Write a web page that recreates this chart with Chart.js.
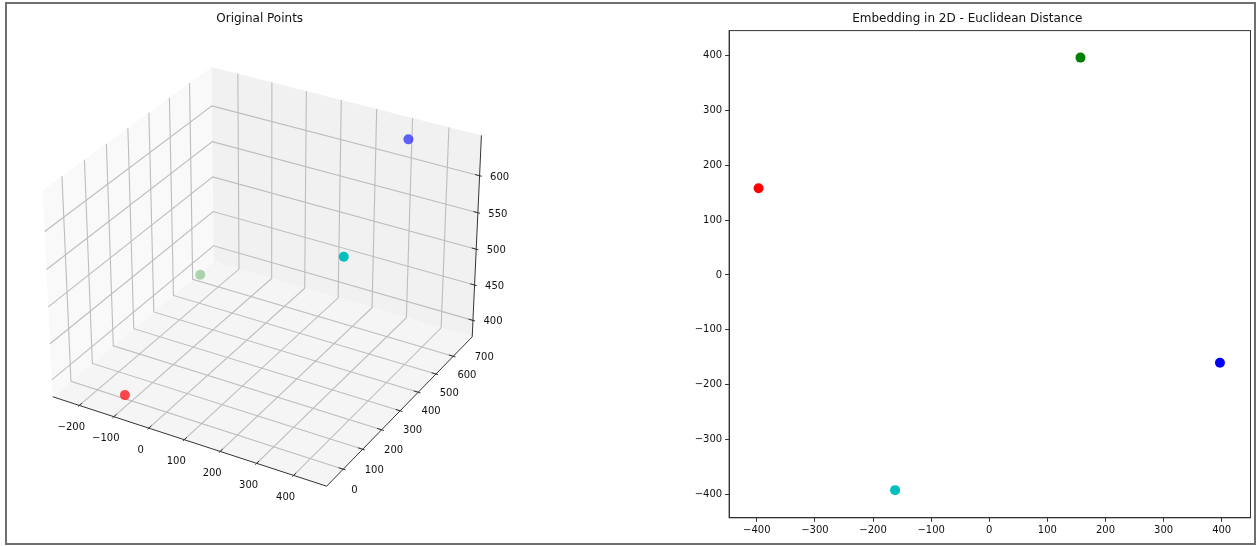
<!DOCTYPE html>
<html>
<head>
<meta charset="utf-8">
<script src="https://cdn.jsdelivr.net/npm/chart.js@4/dist/chart.umd.min.js"></script>
<style>
  html, body { margin: 0; padding: 0; background: #ffffff; }
  #page { position: absolute; left: 0; top: 0; width: 1259px; height: 546px; overflow: hidden; background: #fff; }
  #frame { position: absolute; left: 5px; top: 2px; width: 1251px; height: 543px; box-sizing: border-box; border: 2px solid #6f6f6f; pointer-events: none; }
  #c3d { position: absolute; left: 0; top: 0; }
  #c2d { position: absolute; left: 660px; top: 0; }
</style>
</head>
<body>
<div id="page">
  <canvas id="c3d" width="630" height="546"></canvas>
  <canvas id="c2d" width="599" height="546"></canvas>
  <div id="frame"></div>
</div>
<script>
// ---------------- data ----------------
const pointColors = ['#ff0000', '#008000', '#00bfbf', '#0000ff'];   // r, g, c, b

// original 3-D points
const origX = [-76, -263, 473, 298];
const origY = [32, 714, 114, 796];
const origZ = [406, 382, 648, 628];

// 2-D embedding
const embedX = [-397, 157, -162, 397];
const embedY = [158, 396, -392, -160];

// tick labels
const xTicks3D = [-200, -100, 0, 100, 200, 300, 400];
const yTicks3D = [0, 100, 200, 300, 400, 500, 600, 700];
const zTicks3D = [400, 450, 500, 550, 600];
const ticks2D = [-400, -300, -200, -100, 0, 100, 200, 300, 400];

// ---------------- helpers ----------------
Chart.defaults.font.family = "'DejaVu Sans', sans-serif";
Chart.defaults.color = '#000';

const fmt = v => String(v).replace('-', '\u2212');
function hexToRgba(hex, a) {
  const r = parseInt(hex.slice(1, 3), 16), g = parseInt(hex.slice(3, 5), 16), b = parseInt(hex.slice(5, 7), 16);
  return `rgba(${r},${g},${b},${a})`;
}

// matplotlib-like 3D view (elev 30, azim -60, perspective, box aspect 4:4:3)
const lim = {
  x: [Math.min(...origX), Math.max(...origX)],
  y: [Math.min(...origY), Math.max(...origY)],
  z: [Math.min(...origZ), Math.max(...origZ)]
};
const ELEV = 30, AZIM = -60, DIST = 10;
const boxAsp = (() => { const a = [4, 4, 3]; const n = Math.hypot(...a); return a.map(v => v * 1.8294640721620434 / n); })();
const er = ELEV * Math.PI / 180, ar = AZIM * Math.PI / 180;
const nV = [Math.cos(er) * Math.cos(ar), Math.cos(er) * Math.sin(ar), Math.sin(er)];
const uV = (() => { const c = [-nV[1], nV[0], 0]; const l = Math.hypot(...c); return c.map(v => v / l); })();
const vV = [nV[1] * uV[2] - nV[2] * uV[1], nV[2] * uV[0] - nV[0] * uV[2], nV[0] * uV[1] - nV[1] * uV[0]];
const dot = (a, b) => a[0] * b[0] + a[1] * b[1] + a[2] * b[2];

function project(x, y, z) {
  const q = [
    ((x - lim.x[0]) / (lim.x[1] - lim.x[0]) - 0.5) * boxAsp[0],
    ((y - lim.y[0]) / (lim.y[1] - lim.y[0]) - 0.5) * boxAsp[1],
    ((z - lim.z[0]) / (lim.z[1] - lim.z[0]) - 0.5) * boxAsp[2]
  ];
  const w = DIST - dot(nV, q);
  return { x: dot(uV, q) / w, y: dot(vV, q) / w, w: w };
}

// pane extents
const dX = lim.x[1] - lim.x[0], dY = lim.y[1] - lim.y[0], dZ = lim.z[1] - lim.z[0];
const PX = [lim.x[0] - dX / 48, lim.x[1] + dX / 48];
const PY = [lim.y[0] - dY / 48, lim.y[1] + dY / 48];
const PZ = [lim.z[0] - dZ / 48, lim.z[1] + dZ / 48];

// projected points + depth shading
const proj3D = origX.map((x, i) => project(x, origY[i], origZ[i]));
const wMin = Math.min(...proj3D.map(p => p.w)), wMax = Math.max(...proj3D.map(p => p.w));
const shaded = proj3D.map((p, i) => hexToRgba(pointColors[i], 1 - 0.7 * (p.w - wMin) / (wMax - wMin)));

const axes3DPlugin = {
  id: 'axes3d',
  beforeDatasetsDraw(chart) {
    const ctx = chart.ctx, sx = chart.scales.x, sy = chart.scales.y;
    const P = (x, y, z) => { const t = project(x, y, z); return [sx.getPixelForValue(t.x), sy.getPixelForValue(t.y)]; };
    const poly = (pts, fill) => {
      ctx.beginPath();
      pts.forEach((p, i) => { const s = P(...p); i ? ctx.lineTo(s[0], s[1]) : ctx.moveTo(s[0], s[1]); });
      ctx.closePath(); ctx.fillStyle = fill; ctx.fill();
    };
    const line = (pts) => {
      ctx.beginPath();
      pts.forEach((p, i) => { const s = P(...p); i ? ctx.lineTo(s[0], s[1]) : ctx.moveTo(s[0], s[1]); });
      ctx.stroke();
    };
    ctx.save();
    // panes
    poly([[PX[0], PY[0], PZ[0]], [PX[0], PY[1], PZ[0]], [PX[0], PY[1], PZ[1]], [PX[0], PY[0], PZ[1]]], '#f9f9f9');
    poly([[PX[0], PY[1], PZ[0]], [PX[1], PY[1], PZ[0]], [PX[1], PY[1], PZ[1]], [PX[0], PY[1], PZ[1]]], '#f1f1f1');
    poly([[PX[0], PY[0], PZ[0]], [PX[1], PY[0], PZ[0]], [PX[1], PY[1], PZ[0]], [PX[0], PY[1], PZ[0]]], '#f5f5f5');
    // grid
    ctx.strokeStyle = '#bdbdbd'; ctx.lineWidth = 1.1;
    const inX = xTicks3D.filter(t => t >= lim.x[0] && t <= lim.x[1]);
    const inY = yTicks3D.filter(t => t >= lim.y[0] && t <= lim.y[1]);
    const inZ = zTicks3D.filter(t => t >= lim.z[0] && t <= lim.z[1]);
    inX.forEach(t => line([[t, PY[0], PZ[0]], [t, PY[1], PZ[0]], [t, PY[1], PZ[1]]]));
    inY.forEach(t => line([[PX[0], t, PZ[1]], [PX[0], t, PZ[0]], [PX[1], t, PZ[0]]]));
    inZ.forEach(t => line([[PX[1], PY[1], t], [PX[0], PY[1], t], [PX[0], PY[0], t]]));
    // axis lines
    ctx.strokeStyle = '#333'; ctx.lineWidth = 1;
    line([[PX[0], PY[0], PZ[0]], [PX[1], PY[0], PZ[0]]]);
    line([[PX[1], PY[0], PZ[0]], [PX[1], PY[1], PZ[0]]]);
    line([[PX[1], PY[1], PZ[0]], [PX[1], PY[1], PZ[1]]]);
    // tick marks
    inX.forEach(t => line([[t, PY[0] + 0.2 * dY / 12, PZ[0]], [t, PY[0] - 0.1 * dY / 12, PZ[0]]]));
    inY.forEach(t => line([[PX[1] - 0.2 * dX / 12, t, PZ[0]], [PX[1] + 0.1 * dX / 12, t, PZ[0]]]));
    inZ.forEach(t => line([[PX[1] - 0.2 * dX / 12, PY[1], t], [PX[1] + 0.1 * dX / 12, PY[1], t]]));
    // tick labels
    ctx.fillStyle = '#111'; ctx.font = "10px 'DejaVu Sans'";
    ctx.textAlign = 'center'; ctx.textBaseline = 'middle';
    xTicks3D.forEach(t => { const s = P(t, PY[0], PZ[0]); ctx.fillText(fmt(t), s[0] - 8, s[1] + 22); });
    yTicks3D.forEach(t => { const s = P(PX[1], t, PZ[0]); ctx.fillText(fmt(t), s[0] + 31, s[1] + 1); });
    zTicks3D.forEach(t => { const s = P(PX[1], PY[1], t); ctx.fillText(fmt(t), s[0] + 20, s[1] + 1.5); });
    ctx.restore();
  }
};

new Chart(document.getElementById('c3d'), {
  type: 'scatter',
  data: {
    datasets: [{
      data: proj3D.map(p => ({ x: p.x, y: p.y })),
      backgroundColor: shaded,
      borderWidth: 0,
      pointRadius: 5,
      pointHoverRadius: 5,
      clip: false
    }]
  },
  options: {
    responsive: false, animation: false, devicePixelRatio: 1,
    layout: { padding: { left: 15.8, right: 126.4, top: 0, bottom: 29 } },
    scales: {
      x: { type: 'linear', min: -0.095, max: 0.09, display: false },
      y: { type: 'linear', min: -0.095, max: 0.09, display: false }
    },
    plugins: {
      legend: { display: false }, tooltip: { enabled: false },
      title: { display: true, text: 'Original Points', color: '#111',
        font: { size: 12, weight: 'normal' }, padding: { top: 11.5, bottom: 3.3 } }
    }
  },
  plugins: [axes3DPlugin]
});

// ---------------- 2D embedding ----------------
const framePlugin = {
  id: 'frame2d',
  afterDraw(chart) {
    const a = chart.chartArea, ctx = chart.ctx;
    ctx.save(); ctx.strokeStyle = '#333'; ctx.lineWidth = 1;
    ctx.strokeRect(a.left, a.top, a.right - a.left, a.bottom - a.top);
    ctx.restore();
  }
};

new Chart(document.getElementById('c2d'), {
  type: 'scatter',
  data: {
    datasets: [{
      data: embedX.map((x, i) => ({ x: x, y: embedY[i] })),
      backgroundColor: pointColors,
      borderWidth: 0,
      pointRadius: 5,
      pointHoverRadius: 5
    }]
  },
  options: {
    responsive: false, animation: false, devicePixelRatio: 1,
    layout: { padding: { left: 24.1, right: 8.5, top: 0, bottom: 6.2 } },
    scales: {
      x: {
        type: 'linear', min: -447.7, max: 449.6,
        afterBuildTicks: s => { s.ticks = ticks2D.map(v => ({ value: v })); },
        afterFit: s => { s.height = 22; },
        ticks: { callback: v => fmt(v), font: { size: 10 }, color: '#111', padding: 3, maxRotation: 0, autoSkip: false },
        grid: { drawOnChartArea: false, drawTicks: true, tickLength: 4, tickColor: '#333', tickWidth: 1 },
        border: { display: true, color: '#333', width: 1 }
      },
      y: {
        type: 'linear', min: -442.4, max: 445.2,
        afterBuildTicks: s => { s.ticks = ticks2D.map(v => ({ value: v })); },
        afterFit: s => { s.width = 45; },
        ticks: { callback: v => fmt(v), font: { size: 10 }, color: '#111', padding: 3, autoSkip: false },
        grid: { drawOnChartArea: false, drawTicks: true, tickLength: 4, tickColor: '#333', tickWidth: 1 },
        border: { display: true, color: '#333', width: 1 }
      }
    },
    plugins: {
      legend: { display: false }, tooltip: { enabled: false },
      title: { display: true, text: 'Embedding in 2D - Euclidean Distance', color: '#111',
        font: { size: 12, weight: 'normal' }, padding: { top: 11.5, bottom: 4.7 } }
    }
  },
  plugins: [framePlugin]
});
</script>
</body>
</html>
